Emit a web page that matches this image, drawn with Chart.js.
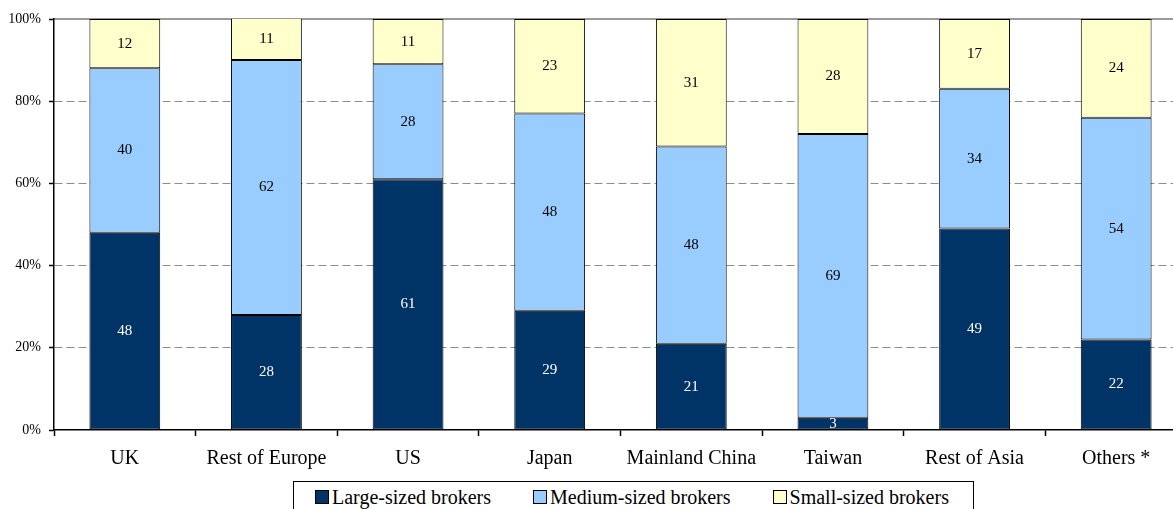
<!DOCTYPE html>
<html>
<head>
<meta charset="utf-8">
<script src="https://cdn.jsdelivr.net/npm/chart.js@4.4.0/dist/chart.umd.min.js"></script>
<style>
    html, body { margin: 0; padding: 0; background: #fff; overflow: hidden; }
    #wrap { position: relative; width: 1173px; height: 509px; overflow: hidden; }
    #grafico { position: absolute; left: 0; top: 0; }
    #leyenda {
        position: absolute; left: 293px; top: 481px; width: 681px; height: 40px;
        border: 1px solid #000; background: #fff; box-sizing: border-box;
        display: flex; align-items: flex-start; padding: 3px 0 0 21px;
        font-family: "Liberation Serif", "Times New Roman", serif; font-size: 20px; color: #000;
    }
    .item { display: flex; align-items: center; margin-right: 42px; line-height: 24px; white-space: nowrap; }
    .cuadro { width: 12px; height: 12px; border: 1px solid #000; margin-right: 3px; }
</style>
</head>
<body>
<div id="wrap">
    <canvas id="grafico" width="1190" height="509"></canvas>
    <div id="leyenda"></div>
</div>
<script>
// Categorías y valores (%) por tamaño de broker
const regiones = ["UK", "Rest of Europe", "US", "Japan", "Mainland China", "Taiwan", "Rest of Asia", "Others *"];
const grandes = [48, 28, 61, 29, 21, 3, 49, 22];
const medianos = [40, 62, 28, 48, 48, 69, 34, 54];
const pequenos = [12, 11, 11, 23, 31, 28, 17, 24];
const ticksY = [0, 20, 40, 60, 80, 100];

const fuente = '"Liberation Serif", "Times New Roman", serif';

const series = [
    { label: "Large-sized brokers", data: grandes, color: "#003366", texto: "#ffffff" },
    { label: "Medium-sized brokers", data: medianos, color: "#99ccff", texto: "#000000" },
    { label: "Small-sized brokers", data: pequenos, color: "#ffffcc", texto: "#000000" }
];

// Etiquetas con el valor en el centro de cada segmento
const etiquetasValores = {
    id: 'etiquetasValores',
    afterDatasetsDraw(chart) {
        const ctx = chart.ctx;
        ctx.save();
        ctx.font = '15px ' + fuente;
        ctx.textAlign = 'center';
        ctx.textBaseline = 'middle';
        chart.data.datasets.forEach((ds, i) => {
            const meta = chart.getDatasetMeta(i);
            const top = chart.scales.y.getPixelForValue(100);
            meta.data.forEach((bar, j) => {
                const p = bar.getProps(['x', 'y', 'base'], true);
                const y1 = Math.max(p.y, top);
                ctx.fillStyle = ds.colorTexto;
                ctx.fillText(String(ds.data[j]), p.x, (y1 + p.base) / 2);
            });
        });
        ctx.restore();
    }
};

const ctx = document.getElementById('grafico').getContext('2d');
const grafico = new Chart(ctx, {
    type: 'bar',
    data: {
        labels: regiones,
        datasets: series.map(s => ({
            label: s.label,
            data: s.data,
            backgroundColor: s.color,
            borderColor: '#000',
            borderWidth: 1,
            borderSkipped: false,
            colorTexto: s.texto,
            categoryPercentage: 1,
            barPercentage: 0.5
        }))
    },
    options: {
        responsive: false,
        animation: false,
        layout: { padding: { left: 0, right: 3, top: 19, bottom: 0 } },
        plugins: {
            legend: { display: false },
            tooltip: { enabled: false }
        },
        scales: {
            x: {
                stacked: true,
                grid: {
                    offset: true,
                    drawOnChartArea: false,
                    drawTicks: true,
                    tickLength: 6,
                    tickColor: '#000',
                    tickWidth: 1.5
                },
                border: { display: true, color: '#000', width: 1.5 },
                ticks: {
                    color: '#000',
                    padding: 11,
                    font: { family: fuente, size: 20 },
                    maxRotation: 0,
                    autoSkip: false
                },
                afterFit(scale) { scale.height = 79; }
            },
            x2: {
                position: 'top',
                grid: { display: false, drawTicks: false },
                ticks: { display: false },
                border: { display: true, color: '#999', width: 2 },
                afterFit(scale) { scale.height = 0; }
            },
            y: {
                stacked: true,
                min: 0,
                max: 100,
                afterBuildTicks(scale) {
                    scale.ticks = ticksY.map(v => ({ value: v }));
                },
                ticks: {
                    color: '#000',
                    padding: 8,
                    font: { family: fuente, size: 14 },
                    callback: v => v + '%'
                },
                grid: {
                    color: c => (c.tick && (c.tick.value === 0 || c.tick.value === 100)) ? 'rgba(0,0,0,0)' : '#8c8c8c',
                    lineWidth: 1,
                    drawTicks: true,
                    tickLength: 5,
                    tickColor: '#000',
                    tickWidth: 1.5,
                    tickBorderDash: []
                },
                border: { display: true, color: '#000', width: 1.5, dash: [8, 4] },
                afterFit(scale) { scale.width = 54; }
            }
        }
    },
    plugins: [etiquetasValores]
});

// Leyenda con recuadro debajo del eje
const leyenda = document.getElementById('leyenda');
grafico.data.datasets.forEach(ds => {
    const item = document.createElement('div');
    item.className = 'item';
    const cuadro = document.createElement('span');
    cuadro.className = 'cuadro';
    cuadro.style.background = ds.backgroundColor;
    const texto = document.createElement('span');
    texto.textContent = ds.label;
    item.appendChild(cuadro);
    item.appendChild(texto);
    leyenda.appendChild(item);
});
</script>
</body>
</html>
